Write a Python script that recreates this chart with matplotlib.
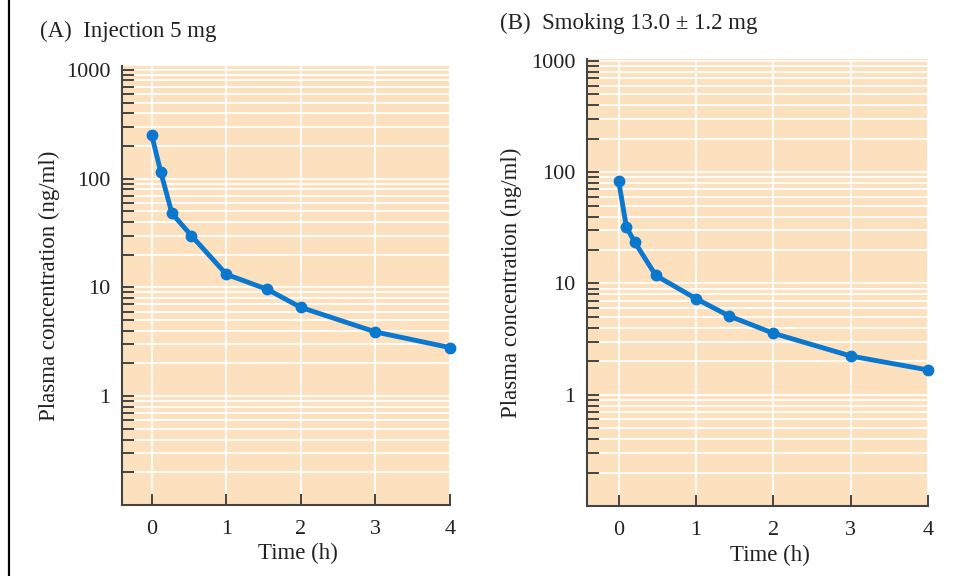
import matplotlib
matplotlib.use("Agg")
import matplotlib.pyplot as plt
from matplotlib.lines import Line2D
from matplotlib.ticker import LogLocator, FixedLocator, NullFormatter

plt.rcParams['font.family'] = ['Liberation Serif', 'DejaVu Serif']

# Data
time_a = [0, 0.12, 0.27, 0.53, 1.0, 1.55, 2.0, 3.0, 4.0]
conc_a = [250, 115, 48, 30, 13.2, 9.6, 6.55, 3.9, 2.8]
time_b = [0, 0.1, 0.21, 0.48, 1.0, 1.43, 2.0, 3.0, 4.0]
conc_b = [83, 32, 23.4, 11.8, 7.3, 5.1, 3.57, 2.23, 1.67]
titles = ["(A)  Injection 5 mg", "(B)  Smoking 13.0 \u00b1 1.2 mg"]
xticks = [0, 1, 2, 3, 4]
yticks = [1, 10, 100, 1000]
ytick_labels = ["1", "10", "100", "1000"]
xlabel = "Time (h)"
ylabel = "Plasma concentration (ng/ml)"

W, H = 956, 576
fig = plt.figure(figsize=(W / 100, H / 100), dpi=100)

bg = "#FDE1BF"
line_c = "#0A78CF"
spine_c = "#444444"
fs = 16.5
tfs = 16

def px_rect(l, r, t, b):
    return [l / W, 1 - b / H, (r - l) / W, (b - t) / H]

panels = [
    dict(rect=px_rect(122, 450, 66, 505), x=time_a, y=conc_a, xlim=(-0.4, 4.0), ylim=(0.1, 1086),
         title_pos=(40, 37)),
    dict(rect=px_rect(587, 928, 59, 506), x=time_b, y=conc_b, xlim=(-0.41, 4.0), ylim=(0.1, 1042),
         title_pos=(500, 29)),
]

for p, title in zip(panels, titles):
    ax = fig.add_axes(p['rect'])
    ax.set_facecolor(bg)
    ax.set_yscale('log')
    ax.set_xlim(*p['xlim'])
    ax.set_ylim(*p['ylim'])
    ax.set_xticks(xticks)
    ax.set_xticklabels([str(t) for t in xticks])
    ax.yaxis.set_major_locator(FixedLocator(yticks))
    ax.set_yticklabels(ytick_labels)
    ax.yaxis.set_minor_locator(LogLocator(base=10, subs=range(2, 10), numticks=20))
    ax.yaxis.set_minor_formatter(NullFormatter())
    ax.grid(True, which='both', axis='y', color='white', lw=1.3)
    ax.grid(True, which='major', axis='x', color='white', lw=1.3)
    ax.set_axisbelow(True)
    for s in ['top', 'right']:
        ax.spines[s].set_visible(False)
    for s in ['left', 'bottom']:
        ax.spines[s].set_color(spine_c)
        ax.spines[s].set_linewidth(1.5)
    ax.tick_params(axis='y', which='both', direction='in', length=8.5, width=1.4,
                   color=spine_c, labelsize=tfs, pad=8.5, labelcolor='#222222')
    ax.tick_params(axis='x', which='major', direction='in', length=8, width=1.4,
                   color=spine_c, labelsize=tfs, pad=11, labelcolor='#222222')
    ax.plot(p['x'], p['y'], color=line_c, lw=3.5, marker='o', ms=7.5, clip_on=False, zorder=5)
    ax.set_xlabel(xlabel, fontsize=fs, color='#222222')
    ax.xaxis.set_label_coords(0.537, -0.086)
    ax.xaxis.label.set_va('top')
    ax.set_ylabel(ylabel, fontsize=fs, color='#222222')
    ax.yaxis.set_label_coords(-0.19, 0.5)
    tx, ty = p['title_pos']
    fig.text(tx / W, 1 - ty / H, title, fontsize=fs, color='#222222', va='baseline', ha='left')

fig.add_artist(Line2D([8.5 / W, 8.5 / W], [0, 1], color='black', lw=1.6))

fig.savefig("out.png", dpi=100, facecolor='white')
